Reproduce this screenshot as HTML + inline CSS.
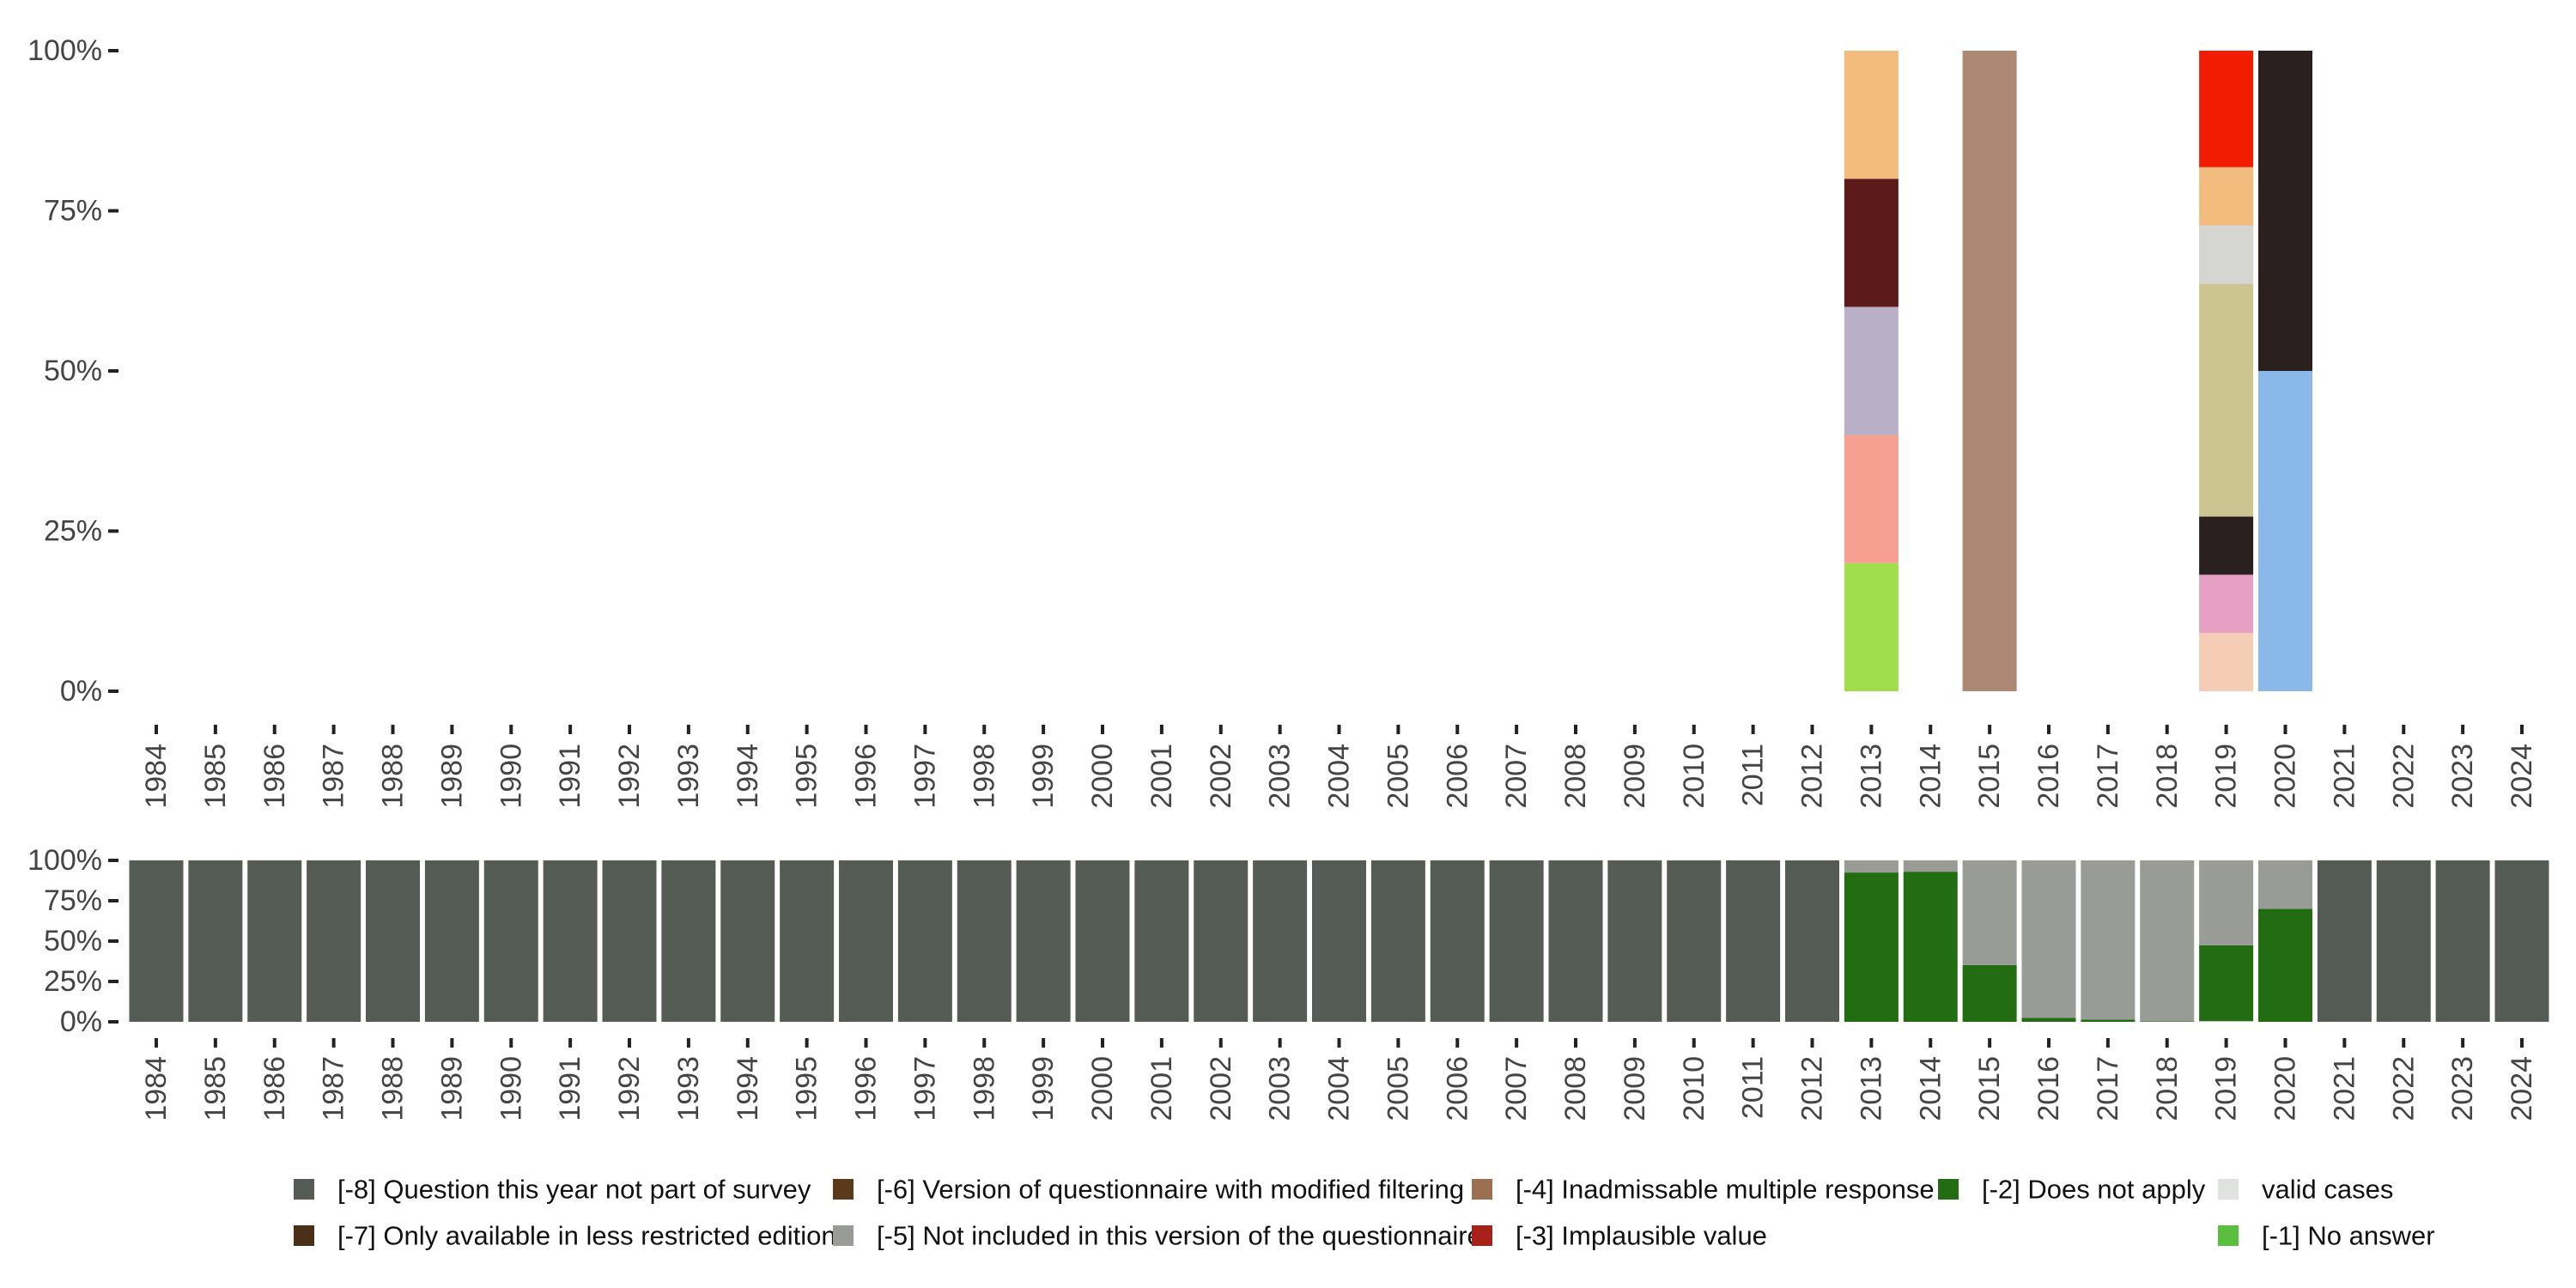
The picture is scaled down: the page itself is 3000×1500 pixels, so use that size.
<!DOCTYPE html>
<html><head><meta charset="utf-8"><style>
html,body{margin:0;padding:0;background:#fff;}
svg{display:block;font-family:"Liberation Sans",sans-serif;}
</style></head><body>
<svg id="chart" width="3000" height="1500" viewBox="0 0 3000 1500" xmlns="http://www.w3.org/2000/svg"></svg>
<script>
const years = [];
for (let y = 1984; y <= 2024; y++) years.push(y);
const topYTicks = [0, 25, 50, 75, 100];
const topYTickLabels = ["0%", "25%", "50%", "75%", "100%"];
// top panel: stacked segments per year [value%, color]
const topYears = [2013, 2015, 2019, 2020];
const top2013 = [[20,"#a0de4e"],[20,"#f5a091"],[20,"#b9b0c8"],[20,"#5c1a1a"],[20,"#f2bc7e"]];
const top2015 = [[100,"#ad8874"]];
const top2019 = [[9.09,"#f5cdb5"],[9.09,"#e6a0c4"],[9.09,"#2a2020"],[36.36,"#cdc591"],[9.09,"#d5d5d2"],[9.09,"#f2bc7e"],[18.19,"#f21c00"]];
const top2020 = [[50,"#8ab8e8"],[50,"#2a2020"]];
// bottom panel: [-2] does not apply share, [-5] not included, valid, rest = [-8]
const botYears = [2013,2014,2015,2016,2017,2018,2019,2020];
const botDoesNotApply = [92.5, 93, 35.2, 2.5, 1.4, 0.4, 47, 70];
const botValid = [0, 0, 0, 0, 0, 0, 0.4, 0];
const legendLabels = ["[-8] Question this year not part of survey","[-6] Version of questionnaire with modified filtering","[-4] Inadmissable multiple response","[-2] Does not apply","valid cases","[-7] Only available in less restricted edition","[-5] Not included in this version of the questionnaire","[-3] Implausible value","","[-1] No answer"];
const legendColors = ["#555b55","#5a3a1a","#9a7050","#226c11","#e0e2e0","#4a3018","#999c96","#a8201a","","#5abf3f"];

const svg = document.getElementById('chart');
const NS = "http://www.w3.org/2000/svg";
function mk(tag, attrs, parent) {
  const e = document.createElementNS(NS, tag);
  for (const k in attrs) e.setAttribute(k, attrs[k]);
  (parent || svg).appendChild(e);
  return e;
}
const x0 = 182, step = 68.875, bw = 63;
function xc(year) { return x0 + (year - 1984) * step; }
const T = {top: 59, bot: 805};
const B = {top: 1002, bot: 1190};
function yT(v) { return T.bot - (T.bot - T.top) * v / 100; }
function yB(v) { return B.bot - (B.bot - B.top) * v / 100; }

topYTicks.forEach((t, i) => {
  const tk = mk('line', {x1:126, x2:138, y1:yT(t), y2:yT(t), stroke:'#222', 'stroke-width':4});
  
  
  const tx = mk('text', {x:119, y:yT(t), 'text-anchor':'end', 'dominant-baseline':'central', 'font-size':34, fill:'#444'});
  tx.textContent = topYTickLabels[i];
  
  
});
topYTicks.forEach((t, i) => {
  const tk = mk('line', {x1:126, x2:138, y1:yB(t), y2:yB(t), stroke:'#222', 'stroke-width':4});
  
  
  const tx = mk('text', {x:119, y:yB(t), 'text-anchor':'end', 'dominant-baseline':'central', 'font-size':34, fill:'#444'});
  tx.textContent = topYTickLabels[i];
  
  
});
function xAxis(tickY, labelY, name) {
  years.forEach(y => {
    const tk = mk('line', {x1:xc(y), x2:xc(y), y1:tickY, y2:tickY+11, stroke:'#222', 'stroke-width':4});
    
    
    const tx = mk('text', {x:0, y:0, 'text-anchor':'end', 'dominant-baseline':'central', 'font-size':34, fill:'#444',
      transform:'translate(' + xc(y) + ',' + labelY + ') rotate(-90)'});
    tx.textContent = y;
    
    
  });
}
xAxis(844, 866, 'top');
xAxis(1209, 1230, 'bottom');

const topData = [top2013, top2015, top2019, top2020];
topYears.forEach((yr, i) => {
  let acc = 0;
  topData[i].forEach(seg => {
    const r = mk('rect', {x:xc(yr)-bw/2, y:yT(acc+seg[0]), width:bw, height:yT(acc)-yT(acc+seg[0]), fill:seg[1]});
    
    
    acc += seg[0];
  });
});

years.forEach(yr => {
  const idx = botYears.indexOf(yr);
  if (idx < 0) {
    const r = mk('rect', {x:xc(yr)-bw/2, y:yB(100), width:bw, height:yB(0)-yB(100), fill:'#555b55'});
    
    
  } else {
    const v = botValid[idx], d = botDoesNotApply[idx];
    const segs = [[v,'#e0e2e0','valid'],[d,'#226c11','does-not-apply'],[100-v-d,'#999c96','not-included']];
    let acc = 0;
    segs.forEach(s => {
      if (s[0] <= 0) return;
      const r = mk('rect', {x:xc(yr)-bw/2, y:yB(acc+s[0]), width:bw, height:yB(acc)-yB(acc+s[0]), fill:s[1]});
      
      
      acc += s[0];
    });
  }
});

const colX = [342, 970, 1714, 2257, 2583];
const rowY = [1385, 1439];
legendLabels.forEach((lab, i) => {
  if (!lab) return;
  const cx = colX[i % 5], cy = rowY[Math.floor(i / 5)];
  const g = mk('g', {});
  
  
  const sq = mk('rect', {x:cx, y:cy-12, width:24, height:24, fill:legendColors[i]}, g);
  
  
  const t = mk('text', {x:cx+51, y:cy, 'dominant-baseline':'central', 'font-size':31, fill:'#111'}, g);
  t.textContent = lab;
  
  
});
</script>
</body></html>
